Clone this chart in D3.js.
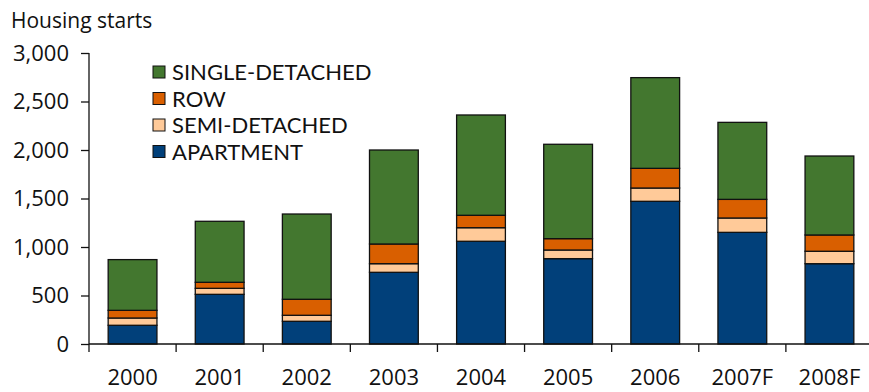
<!DOCTYPE html>
<html>
<head>
<meta charset="utf-8">
<script src="https://cdn.jsdelivr.net/npm/d3@7"></script>
<style>
  body { margin: 0; background: #fff; }
  svg { display: block; font-family: "Open Sans", sans-serif; }
</style>
</head>
<body>
<svg id="chart"></svg>
<script>
// data
const years = ['2000', '2001', '2002', '2003', '2004', '2005', '2006', '2007F', '2008F'];
const apartment = [193, 512, 234, 739, 1059, 880, 1471, 1151, 828];
const semiDetached = [75, 62, 62, 89, 140, 89, 137, 148, 128];
const row = [79, 62, 165, 203, 128, 117, 203, 192, 168];
const singleDetached = [523, 629, 879, 969, 1034, 973, 935, 794, 814];
const seriesNames = ['APARTMENT', 'SEMI-DETACHED', 'ROW', 'SINGLE-DETACHED'];
const colors = ['#01407a', '#ffca99', '#d95f00', '#43772f'];
const yTicks = [0, 500, 1000, 1500, 2000, 2500, 3000];

const W = 869, H = 392;
const svg = d3.select('#chart').attr('width', W).attr('height', H);

const x = d3.scaleBand().domain(years).range([89, 873]).paddingInner(0.44).paddingOuter(0.22);
const y = d3.scaleLinear().domain([0, 3000]).range([344, 53]);

// stack table built from the arrays
const table = years.map((yr, i) => ({
  year: yr,
  APARTMENT: apartment[i],
  'SEMI-DETACHED': semiDetached[i],
  ROW: row[i],
  'SINGLE-DETACHED': singleDetached[i]
}));
const stacked = d3.stack().keys(seriesNames)(table);

svg.append('g')
  .selectAll('g')
  .data(stacked)
  .join('g')
    .attr('fill', (d, i) => colors[i])
  .selectAll('rect')
  .data(d => d)
  .join('rect')
    .attr('x', d => x(d.data.year))
    .attr('y', d => y(d[1]))
    .attr('width', x.bandwidth())
    .attr('height', d => y(d[0]) - y(d[1]))
    .attr('stroke', '#111')
    .attr('stroke-width', 1.3);

// y axis
const yAxis = svg.append('g')
  .attr('transform', 'translate(89,0)')
  .call(d3.axisLeft(y).tickValues(yTicks).tickSize(8).tickPadding(12).tickFormat(d3.format(',')));
yAxis.select('.domain').attr('stroke', '#111').attr('stroke-width', 1.3).attr('d', 'M0,53V344');
yAxis.selectAll('.tick line').attr('stroke', '#111').attr('stroke-width', 1.3);
yAxis.selectAll('.tick text').attr('font-size', 22).attr('fill', '#111').attr('font-family', '"Open Sans", sans-serif');

// x axis: ticks between categories
const xAxisG = svg.append('g').attr('transform', 'translate(0,344)');
xAxisG.append('line')
  .attr('x1', 89).attr('x2', W).attr('y1', 0).attr('y2', 0)
  .attr('stroke', '#111').attr('stroke-width', 1.5);
xAxisG.selectAll('line.sep')
  .data(years)
  .join('line')
    .attr('class', 'sep')
    .attr('x1', d => x(d) - x.step() * x.paddingInner() / 2)
    .attr('x2', d => x(d) - x.step() * x.paddingInner() / 2)
    .attr('y1', 0).attr('y2', 8)
    .attr('stroke', '#111').attr('stroke-width', 1.3);
xAxisG.selectAll('text')
  .data(years)
  .join('text')
    .attr('x', d => x(d) + x.bandwidth() / 2)
    .attr('y', 41)
    .attr('text-anchor', 'middle')
    .attr('font-size', 22)
    .attr('fill', '#111')
    .text(d => d);

// title
svg.append('text')
  .attr('x', 11).attr('y', 28)
  .attr('font-size', 21)
  .attr('fill', '#111')
  .text('Housing starts');

// legend (top entry = last series)
const legend = svg.append('g').attr('transform', 'translate(153,66)');
const legendOrder = seriesNames.slice().reverse();
legend.selectAll('g')
  .data(legendOrder)
  .join('g')
    .attr('transform', (d, i) => `translate(0,${i * 26.5})`)
  .call(g => g.append('rect')
    .attr('width', 12).attr('height', 12)
    .attr('fill', d => colors[seriesNames.indexOf(d)])
    .attr('stroke', '#111').attr('stroke-width', 1))
  .call(g => g.append('text')
    .attr('x', 19).attr('y', 14)
    .attr('font-family', 'Lato, sans-serif')
    .attr('font-size', 22)
    .attr('fill', '#111')
    .text(d => d));
</script>
</body>
</html>
